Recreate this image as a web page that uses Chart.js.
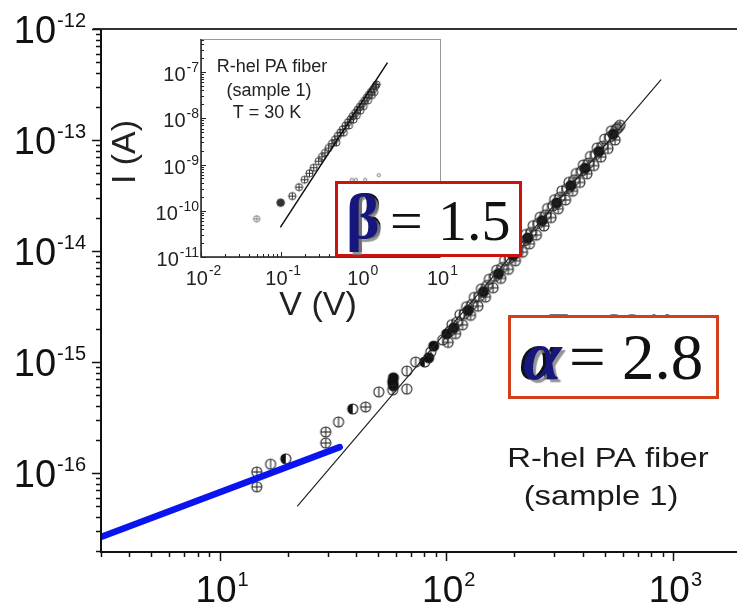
<!DOCTYPE html>
<html>
<head>
<meta charset="utf-8">
<script src="https://cdn.jsdelivr.net/npm/chart.js@4.4.1/dist/chart.umd.min.js"></script>
<style>
  html, body { margin: 0; padding: 0; background: #fff; }
  #wrap { position: relative; width: 737px; height: 606px; overflow: hidden; }
  canvas { position: absolute; left: 0; top: 0; }
  #insetChart { pointer-events: none; }
</style>
</head>
<body>
<div id="wrap">
  <canvas id="mainChart" width="737" height="606"></canvas>
  <canvas id="insetChart" width="737" height="606"></canvas>
</div>
<script>
// main panel: I-V at low temperature, log-log
const mainXDecades = [1, 2, 3];
const mainYDecades = [-12, -13, -14, -15, -16];
const mainXTickLabels = [["10", "1"], ["10", "2"], ["10", "3"]];
const mainYTickLabels = [["10", "-12"], ["10", "-13"], ["10", "-14"], ["10", "-15"], ["10", "-16"]];

// open circles with a vertical bar
const openV = [16.8, 33.5, 50.4, 58.1, 67, 67, 73.3, 85.5, 96.5, 104, 112, 120, 130, 140, 152, 164, 177, 191, 205, 221, 237, 255, 275, 296, 318, 342, 368, 396, 425, 456, 490, 527, 566, 585];
const openI = [1.2e-16, 2.88e-16, 5.37e-16, 5.6e-16, 5.7e-16, 8.3e-16, 1.0e-15, 1.23e-15, 1.58e-15, 1.9e-15, 2.3e-15, 2.7e-15, 3.3e-15, 3.9e-15, 4.9e-15, 5.9e-15, 7.1e-15, 8.6e-15, 1.03e-14, 1.23e-14, 1.47e-14, 1.77e-14, 2.12e-14, 2.55e-14, 3.05e-14, 3.65e-14, 4.38e-14, 5.25e-14, 6.2e-14, 7.4e-14, 8.8e-14, 1.06e-13, 1.26e-13, 1.36e-13];
const openV2 = [106, 115, 123, 133, 143, 155, 167, 181, 195, 209, 225, 242, 260, 280, 301, 324, 348, 375, 403, 433, 464, 500, 536, 575];
const openI2 = [2.17e-15, 2.67e-15, 3.15e-15, 3.82e-15, 4.56e-15, 5.57e-15, 6.73e-15, 8.21e-15, 9.87e-15, 1.17e-14, 1.41e-14, 1.69e-14, 2.02e-14, 2.42e-14, 2.9e-14, 3.48e-14, 4.16e-14, 4.99e-14, 5.96e-14, 7.12e-14, 8.5e-14, 1.02e-13, 1.21e-13, 1.3e-13];
// crossed circles
const crossV = [14.6, 14.6, 29.4, 29.4, 44.1, 102, 110, 118, 128, 138, 149, 161, 174, 188, 202, 217, 233, 250, 270, 290, 312, 336, 361, 389, 418, 448, 481, 517, 556];
const crossI = [1.02e-16, 7.5e-17, 2.34e-16, 1.86e-16, 3.93e-16, 1.5e-15, 1.8e-15, 2.16e-15, 2.63e-15, 3.18e-15, 3.84e-15, 4.66e-15, 5.66e-15, 6.83e-15, 8.16e-15, 9.74e-15, 1.16e-14, 1.39e-14, 1.68e-14, 2.0e-14, 2.4e-14, 2.88e-14, 3.46e-14, 4.15e-14, 4.96e-14, 5.88e-14, 7.02e-14, 8.38e-14, 1.0e-13];
// half filled circles
const halfV = [19.6, 38.7, 80.4];
const halfI = [1.34e-16, 3.77e-16, 1.0e-15];
// filled circles
const solidV = [58.1, 58.5, 58.5, 83.7, 88.1, 100.5, 108, 125, 146, 170, 198, 229, 265, 307, 355, 410, 472, 546];
const solidI = [6.6e-16, 7.2e-16, 6.1e-16, 1.09e-15, 1.39e-15, 1.79e-15, 2.03e-15, 2.92e-15, 4.29e-15, 6.25e-15, 9.17e-15, 1.31e-14, 1.88e-14, 2.71e-14, 3.89e-14, 5.57e-14, 7.89e-14, 1.13e-13];

// power-law guides
const fitV = [22.1, 885];
const fitI = [5.05e-17, 3.48e-13];
const lowFitV = [3.0, 33.9];
const lowFitI = [2.65e-17, 1.71e-16];

// inset: T = 30 K
const insetXDecades = [-2, -1, 0, 1];
const insetYDecades = [-7, -8, -9, -10, -11];
const insetXTickLabels = [["10", "-2"], ["10", "-1"], ["10", "0"], ["10", "1"]];
const insetYTickLabels = [["10", "-7"], ["10", "-8"], ["10", "-9"], ["10", "-10"], ["10", "-11"]];
const insetV = [0.14, 0.17, 0.2, 0.23, 0.26, 0.3, 0.33, 0.36, 0.4, 0.44, 0.48, 0.52, 0.56, 0.6, 0.65, 0.7, 0.75, 0.8, 0.86, 0.92, 0.98, 1.05, 1.12, 1.2, 1.28, 1.36, 1.45, 1.55, 1.6];
const insetI = [2.08e-10, 3.24e-10, 4.69e-10, 6.47e-10, 8.53e-10, 1.18e-9, 1.47e-9, 1.79e-9, 2.28e-9, 2.83e-9, 3.45e-9, 4.15e-9, 4.91e-9, 5.74e-9, 6.9e-9, 8.2e-9, 9.5e-9, 1.11e-8, 1.3e-8, 1.52e-8, 1.76e-8, 2.06e-8, 2.38e-8, 2.79e-8, 3.23e-8, 3.72e-8, 4.28e-8, 5.0e-8, 5.4e-8];
const insetV2 = [0.5, 0.62, 0.72, 0.82, 0.9, 1.0, 1.1, 1.25, 1.4, 1.5];
const insetI2 = [3.0e-9, 4.9e-9, 7.0e-9, 9.4e-9, 1.16e-8, 1.47e-8, 1.83e-8, 2.45e-8, 3.17e-8, 3.7e-8];
const insetLowV = [0.05, 0.1];
const insetLowI = [6.7e-11, 1.5e-10];
const insetOtherV = [0.78, 0.88, 1.15, 1.7];
const insetOtherI = [4.7e-10, 4.7e-10, 4.7e-10, 5.9e-10];
const insetFitV = [0.1, 2.17];
const insetFitI = [4.5e-11, 1.57e-7];

const SANS = '"Liberation Sans", Arial, sans-serif';
const SERIF = '"Liberation Serif", "Times New Roman", serif';

function pts(xs, ys) {
  return xs.map((x, i) => ({ x: x, y: ys[i] }));
}

// small canvas used as a point style
function marker(kind, r, color, lw) {
  const s = Math.ceil(2 * r + lw + 2);
  const c = document.createElement("canvas");
  c.width = s;
  c.height = s;
  const g = c.getContext("2d");
  const m = s / 2;
  g.strokeStyle = color;
  g.fillStyle = color;
  g.lineWidth = lw;
  g.beginPath();
  g.arc(m, m, r, 0, Math.PI * 2);
  if (kind === "solid") g.fill();
  g.stroke();
  if (kind === "half") {
    g.beginPath();
    g.arc(m, m, r, Math.PI / 2, Math.PI * 1.5);
    g.closePath();
    g.fill();
  }
  if (kind === "vline" || kind === "plus") {
    g.beginPath();
    g.moveTo(m, m - r);
    g.lineTo(m, m + r);
    g.stroke();
  }
  if (kind === "plus") {
    g.beginPath();
    g.moveTo(m - r, m);
    g.lineTo(m + r, m);
    g.stroke();
  }
  return c;
}

function decadeTicks(decades) {
  const out = [];
  decades.forEach((d) => {
    for (let k = 1; k <= 9; k++) out.push({ v: k * Math.pow(10, d), major: k === 1 });
  });
  return out;
}

// "10" with a raised exponent
function powerLabel(ctx, parts, x, y, big, small, align, supRise) {
  ctx.font = big + "px " + SANS;
  const w1 = ctx.measureText(parts[0]).width;
  ctx.font = small + "px " + SANS;
  const w2 = ctx.measureText(parts[1]).width;
  let left = x;
  if (align === "right") left = x - w1 - w2;
  if (align === "center") left = x - (w1 + w2) / 2;
  ctx.textAlign = "left";
  ctx.textBaseline = "alphabetic";
  ctx.font = big + "px " + SANS;
  ctx.fillText(parts[0], left, y);
  ctx.font = small + "px " + SANS;
  ctx.fillText(parts[1], left + w1 + 1, y - supRise);
}

// text stretched sideways a little, centred on x
function wideText(ctx, text, x, y, sx) {
  ctx.save();
  ctx.translate(x, y);
  ctx.scale(sx, 1);
  ctx.fillText(text, 0, 0);
  ctx.restore();
}

const mainAxes = {
  id: "mainAxes",
  afterDraw(chart) {
    const ctx = chart.ctx;
    const a = chart.chartArea;
    const xs = chart.scales.x;
    const ys = chart.scales.y;
    const w = chart.width;
    ctx.save();
    ctx.strokeStyle = "#111";
    ctx.lineWidth = 2;
    ctx.beginPath();
    ctx.moveTo(a.left, a.top);
    ctx.lineTo(a.left, a.bottom);
    ctx.lineTo(w, a.bottom);
    ctx.stroke();
    ctx.strokeStyle = "#333";
    ctx.beginPath();
    ctx.moveTo(a.left - 8, a.top);
    ctx.lineTo(w, a.top);
    ctx.stroke();

    ctx.lineWidth = 1.5;
    ctx.strokeStyle = "#111";
    decadeTicks([0, 1, 2, 3]).forEach((t) => {
      if (t.v < xs.min || t.v > xs.max) return;
      const px = Math.round(xs.getPixelForValue(t.v)) + 0.5;
      ctx.beginPath();
      ctx.moveTo(px, a.bottom);
      ctx.lineTo(px, a.bottom + (t.major ? 9 : 5));
      ctx.stroke();
    });
    decadeTicks([-17, -16, -15, -14, -13, -12]).forEach((t) => {
      if (t.v < ys.min || t.v > ys.max * 1.0001) return;
      const py = Math.round(ys.getPixelForValue(t.v)) + 0.5;
      ctx.beginPath();
      ctx.moveTo(a.left, py);
      ctx.lineTo(a.left - (t.major ? 9 : 5), py);
      ctx.stroke();
    });

    ctx.fillStyle = "#111";
    mainXDecades.forEach((d, i) => {
      const px = xs.getPixelForValue(Math.pow(10, d));
      powerLabel(ctx, mainXTickLabels[i], px + 2, 602, 37, 20, "center", 16);
    });
    mainYDecades.forEach((d, i) => {
      const py = ys.getPixelForValue(Math.pow(10, d));
      powerLabel(ctx, mainYTickLabels[i], 85, py + 14, 38, 20, "right", 16);
    });

    // sample caption (the temperature line sits mostly under the alpha box)
    ctx.font = "28px " + SANS;
    ctx.textAlign = "center";
    ctx.fillStyle = "#777";
    wideText(ctx, "T = 30 K", 610, 333, 1.15);
    ctx.fillStyle = "#1a1a1a";
    wideText(ctx, "R-hel PA fiber", 608, 467, 1.17);
    wideText(ctx, "(sample 1)", 601, 505, 1.17);
    ctx.restore();
  }
};

const insetAxes = {
  id: "insetAxes",
  beforeDraw(chart) {
    const ctx = chart.ctx;
    const a = chart.chartArea;
    ctx.save();
    ctx.fillStyle = "#fff";
    ctx.fillRect(a.left, a.top, a.right - a.left, a.bottom - a.top);
    ctx.restore();
  },
  afterDatasetsDraw(chart) {
    const ctx = chart.ctx;
    const a = chart.chartArea;
    const xs = chart.scales.x;
    const ys = chart.scales.y;
    ctx.save();
    ctx.strokeStyle = "#999";
    ctx.lineWidth = 1;
    ctx.strokeRect(a.left + 0.5, a.top + 0.5, a.right - a.left, a.bottom - a.top);
    ctx.strokeStyle = "#222";
    ctx.lineWidth = 1.5;
    ctx.beginPath();
    ctx.moveTo(a.left, a.top);
    ctx.lineTo(a.left, a.bottom);
    ctx.lineTo(a.right, a.bottom);
    ctx.stroke();

    ctx.lineWidth = 1;
    decadeTicks([-2, -1, 0]).concat([{ v: 10, major: true }]).forEach((t) => {
      const px = Math.round(xs.getPixelForValue(t.v)) + 0.5;
      ctx.beginPath();
      ctx.moveTo(px, a.bottom);
      ctx.lineTo(px, a.bottom - (t.major ? 5 : 3));
      ctx.stroke();
    });
    decadeTicks([-11, -10, -9, -8, -7]).forEach((t) => {
      if (t.v > ys.max) return;
      const py = Math.round(ys.getPixelForValue(t.v)) + 0.5;
      ctx.beginPath();
      ctx.moveTo(a.left, py);
      ctx.lineTo(a.left + (t.major ? 5 : 3), py);
      ctx.stroke();
    });

    ctx.fillStyle = "#222";
    insetXDecades.forEach((d, i) => {
      const px = xs.getPixelForValue(Math.pow(10, d));
      powerLabel(ctx, insetXTickLabels[i], px + 2, 285, 20, 14, "center", 10);
    });
    insetYDecades.forEach((d, i) => {
      const py = ys.getPixelForValue(Math.pow(10, d));
      powerLabel(ctx, insetYTickLabels[i], 198, py + 9, 20, 14, "right", 9);
    });

    // axis titles
    ctx.font = "34px " + SANS;
    ctx.textAlign = "center";
    ctx.textBaseline = "middle";
    ctx.fillText("V (V)", 318, 306);
    ctx.save();
    ctx.translate(126, 152);
    ctx.rotate(-Math.PI / 2);
    ctx.fillText("I (A)", 0, 0);
    ctx.restore();

    ctx.textBaseline = "alphabetic";
    ctx.font = "18px " + SANS;
    ctx.fillText("R-hel PA fiber", 272, 72);
    ctx.fillText("(sample 1)", 269, 96);
    ctx.fillText("T = 30 K", 267, 118);
    ctx.restore();
  },
  afterDraw(chart) {
    const ctx = chart.ctx;
    ctx.save();
    // exponent boxes
    drawBox(ctx, 335, 181, 187, 76, "#cc1111");
    drawBox(ctx, 508, 315, 211, 84, "#d0401a");

    ctx.textAlign = "left";
    ctx.textBaseline = "alphabetic";
    ctx.fillStyle = "#111";
    ctx.font = "58px " + SERIF;
    ctx.fillText("=", 390, 240);
    ctx.fillText("1.5", 438, 240);
    ctx.font = "65px " + SERIF;
    ctx.fillText("=", 569, 379);
    ctx.fillText("2.8", 622, 379);

    // dark echo behind the greek letters
    ctx.font = "bold 64px " + SERIF;
    ctx.fillText("\u03B2", 349, 238);
    ctx.font = "bold italic 70px " + SERIF;
    ctx.fillText("\u03B1", 520, 379);

    ctx.shadowColor = "rgba(130,130,130,0.85)";
    ctx.shadowOffsetX = 3;
    ctx.shadowOffsetY = 3;
    ctx.shadowBlur = 1;
    ctx.fillStyle = "#16167c";
    ctx.font = "bold 64px " + SERIF;
    ctx.fillText("\u03B2", 346, 238);
    ctx.font = "bold italic 70px " + SERIF;
    ctx.fillText("\u03B1", 523, 379);
    ctx.restore();
  }
};

function drawBox(ctx, x, y, w, h, color) {
  ctx.fillStyle = "#fff";
  ctx.fillRect(x, y, w, h);
  ctx.strokeStyle = color;
  ctx.lineWidth = 3;
  ctx.strokeRect(x + 1.5, y + 1.5, w - 3, h - 3);
}

const openBig = marker("vline", 5, "#222", 1.1);
const crossBig = marker("plus", 5, "#222", 1.1);
const halfBig = marker("half", 5, "#111", 1.1);
const solidBig = marker("solid", 5, "#111", 1.1);
const crossSmall = marker("plus", 3.6, "#333", 1);
const openSmall = marker("vline", 3.6, "#333", 1);
const crossGray = marker("plus", 3.2, "#777", 0.9);
const crossDark = marker("solid", 3.8, "#333", 1);
const dotSmall = marker("open", 1.6, "#666", 0.8);

function markerSet(data, img) {
  return {
    data: data,
    showLine: false,
    pointStyle: img,
    pointRadius: 5,
    pointHoverRadius: 5
  };
}

function guide(data, color, width) {
  return {
    data: data,
    showLine: true,
    borderColor: color,
    borderWidth: width,
    borderCapStyle: "round",
    pointRadius: 0,
    pointHoverRadius: 0
  };
}

new Chart(document.getElementById("mainChart"), {
  type: "scatter",
  data: {
    datasets: [
      guide(pts(fitV, fitI), "#222", 1.2),
      guide(pts(lowFitV, lowFitI), "#0a14f0", 6.5),
      markerSet(pts(openV, openI), openBig),
      markerSet(pts(openV2, openI2), openBig),
      markerSet(pts(crossV, crossI), crossBig),
      markerSet(pts(halfV, halfI), halfBig),
      markerSet(pts(solidV, solidI), solidBig)
    ]
  },
  options: {
    responsive: false,
    animation: false,
    events: [],
    layout: { autoPadding: false, padding: { left: 101, top: 29, right: 0, bottom: 54 } },
    plugins: { legend: { display: false }, tooltip: { enabled: false } },
    scales: {
      x: { type: "logarithmic", min: 3.0, max: 1918, display: false },
      y: { type: "logarithmic", min: 1.94e-17, max: 1e-12, display: false }
    }
  },
  plugins: [mainAxes]
});

new Chart(document.getElementById("insetChart"), {
  type: "scatter",
  data: {
    datasets: [
      guide(pts(insetFitV, insetFitI), "#111", 1.5),
      markerSet(pts(insetV, insetI), crossSmall),
      markerSet(pts(insetV2, insetI2), openSmall),
      markerSet(pts(insetLowV.slice(0, 1), insetLowI.slice(0, 1)), crossGray),
      markerSet(pts(insetLowV.slice(1), insetLowI.slice(1)), crossDark),
      markerSet(pts(insetOtherV, insetOtherI), dotSmall)
    ]
  },
  options: {
    responsive: false,
    animation: false,
    events: [],
    layout: { autoPadding: false, padding: { left: 201, top: 39, right: 297, bottom: 349 } },
    plugins: { legend: { display: false }, tooltip: { enabled: false } },
    scales: {
      x: { type: "logarithmic", min: 0.01, max: 10, display: false },
      y: { type: "logarithmic", min: 1e-11, max: 5.2e-7, display: false }
    }
  },
  plugins: [insetAxes]
});
</script>
</body>
</html>
